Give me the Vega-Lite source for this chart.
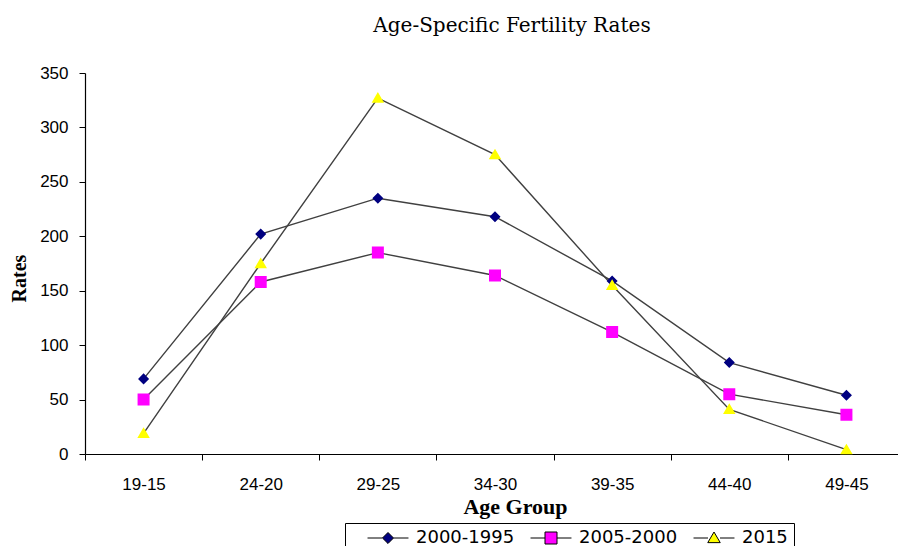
{
  "$schema": "https://vega.github.io/schema/vega-lite/v6.json",
  "autosize": {"type": "none"},
  "padding": {"left": 85, "top": 73, "right": 0, "bottom": 92},
  "width": 820,
  "height": 381,
  "background": "white",
  "title": {"text": "Age-Specific Fertility Rates", "font": "DejaVu Serif", "fontSize": 20, "fontWeight": "normal", "color": "black", "offset": 28, "dx": 17, "anchor": "middle"},
  "config": {"view": {"stroke": null}, "axis": {"grid": false, "domainColor": "black", "tickColor": "black", "labelColor": "black", "titleColor": "black"}},
  "data": {"values": [
    {"age": "19-15", "series": "2000-1995", "rate": 69},
    {"age": "24-20", "series": "2000-1995", "rate": 202},
    {"age": "29-25", "series": "2000-1995", "rate": 235},
    {"age": "34-30", "series": "2000-1995", "rate": 218},
    {"age": "39-35", "series": "2000-1995", "rate": 159},
    {"age": "44-40", "series": "2000-1995", "rate": 84},
    {"age": "49-45", "series": "2000-1995", "rate": 54},
    {"age": "19-15", "series": "2005-2000", "rate": 50},
    {"age": "24-20", "series": "2005-2000", "rate": 158},
    {"age": "29-25", "series": "2005-2000", "rate": 185},
    {"age": "34-30", "series": "2005-2000", "rate": 164},
    {"age": "39-35", "series": "2005-2000", "rate": 112},
    {"age": "44-40", "series": "2005-2000", "rate": 55},
    {"age": "49-45", "series": "2005-2000", "rate": 36},
    {"age": "19-15", "series": "2015", "rate": 19},
    {"age": "24-20", "series": "2015", "rate": 175},
    {"age": "29-25", "series": "2015", "rate": 327},
    {"age": "34-30", "series": "2015", "rate": 275},
    {"age": "39-35", "series": "2015", "rate": 155},
    {"age": "44-40", "series": "2015", "rate": 41},
    {"age": "49-45", "series": "2015", "rate": 4}
  ]},
  "encoding": {
    "x": {"field": "age", "type": "nominal", "sort": null,
      "scale": {"type": "band", "paddingInner": 0, "paddingOuter": 0},
      "axis": {"title": "Age Group", "titleFont": "Liberation Serif", "titleFontSize": 22, "titleFontWeight": "bold", "titleX": 430, "titleY": 42,
        "labelFont": "Liberation Sans", "labelFontSize": 17, "labelAngle": 0, "labelPadding": 16, "tickBand": "extent", "tickSize": 6, "domainWidth": 1.2, "tickWidth": 1}},
    "y": {"field": "rate", "type": "quantitative",
      "scale": {"domain": [0, 350], "nice": false},
      "axis": {"title": "Rates", "titleFont": "Liberation Serif", "titleFontSize": 20, "titleFontWeight": "bold", "titleX": -56, "titleY": 205,
        "labelFont": "Liberation Sans", "labelFontSize": 17, "labelPadding": 11, "values": [0, 50, 100, 150, 200, 250, 300, 350], "tickSize": 6, "domainWidth": 1.2}}
  },
  "layer": [
    {"mark": {"type": "line", "color": "#404040", "strokeWidth": 1.4},
     "encoding": {"detail": {"field": "series", "type": "nominal"}}},
    {"mark": {"type": "point", "filled": true, "opacity": 1, "size": 256},
     "encoding": {
       "color": {"field": "series", "type": "nominal", "scale": {"domain": ["2000-1995", "2005-2000", "2015"], "range": ["#000080", "#FF00FF", "#FFFF00"]},
         "legend": {"title": "\u2003", "titleFontSize": 10, "titleOrient": "left", "titlePadding": 28, "orient": "none", "direction": "horizontal", "legendX": 260, "legendY": 450,
           "strokeColor": "black", "padding": 6, "symbolOpacity": 1, "symbolSize": 256,
           "labelFont": "DejaVu Sans", "labelFontSize": 18, "labelColor": "black", "labelOffset": 19, "columnPadding": 13,
           "encode": {"symbols": {"update": {"stroke": {"value": "black"}, "strokeWidth": {"value": 1}}}}}},
       "shape": {"field": "series", "type": "nominal", "scale": {"domain": ["2000-1995", "2005-2000", "2015"],
         "range": ["M-2.56,0H-0.69M0.69,0H2.56M0,-0.69L0.69,0L0,0.69L-0.69,0Z", "M-2.56,0H-0.75M0.75,0H2.56M-0.75,-0.75H0.75V0.75H-0.75Z", "M-2.56,0H-0.75M0.75,0H2.56M0,-0.75L0.78,0.58H-0.78Z"]},
         "legend": {"title": "\u2003", "titleFontSize": 10, "titleOrient": "left", "titlePadding": 28, "orient": "none", "direction": "horizontal", "legendX": 260, "legendY": 450,
           "strokeColor": "black", "padding": 6, "symbolOpacity": 1, "symbolSize": 256,
           "labelFont": "DejaVu Sans", "labelFontSize": 18, "labelColor": "black", "labelOffset": 19, "columnPadding": 13,
           "encode": {"symbols": {"update": {"stroke": {"value": "black"}, "strokeWidth": {"value": 1}}}}}}
     }}
  ]
}
